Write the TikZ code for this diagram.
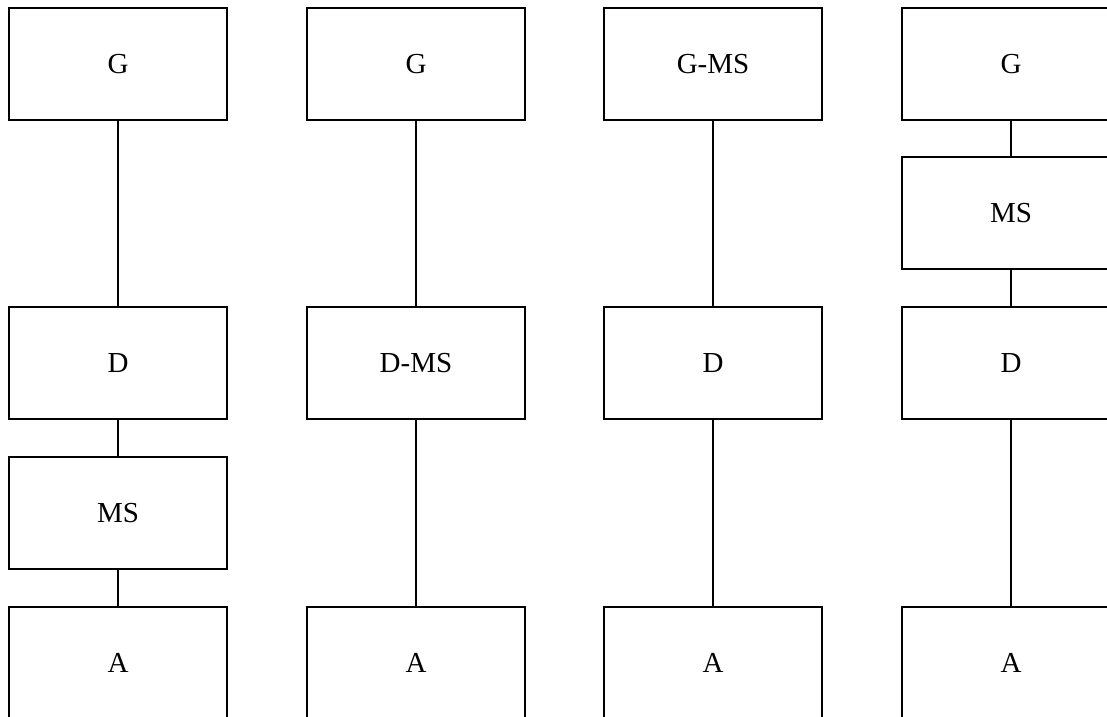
\documentclass[tikz,border=0pt]{standalone}
\usepackage{fontspec}
\setmainfont{Liberation Serif}
\begin{document}
\begin{tikzpicture}[x=1pt,y=-1pt,
  blk/.style={draw, line width=1.1pt, rectangle, minimum width=218pt, minimum height=112pt,
    inner sep=0pt, font=\fontsize{29}{34}\selectfont},
  link/.style={line width=1.1pt}]
\useasboundingbox (0,0) rectangle (1107,716);
\clip (0,0) rectangle (1107,716);
% column 1
\node[blk] (g1) at (118,64) {G};
\node[blk] (d1) at (118,363) {D};
\node[blk] (m1) at (118,513) {MS};
\node[blk] (a1) at (118,663) {A};
\draw[link] (g1) -- (d1);
\draw[link] (d1) -- (m1);
\draw[link] (m1) -- (a1);
% column 2
\node[blk] (g2) at (416,64) {G};
\node[blk] (d2) at (416,363) {D-MS};
\node[blk] (a2) at (416,663) {A};
\draw[link] (g2) -- (d2);
\draw[link] (d2) -- (a2);
% column 3
\node[blk] (g3) at (713,64) {G-MS};
\node[blk] (d3) at (713,363) {D};
\node[blk] (a3) at (713,663) {A};
\draw[link] (g3) -- (d3);
\draw[link] (d3) -- (a3);
% column 4
\node[blk] (g4) at (1011,64) {G};
\node[blk] (m4) at (1011,213) {MS};
\node[blk] (d4) at (1011,363) {D};
\node[blk] (a4) at (1011,663) {A};
\draw[link] (g4) -- (m4);
\draw[link] (m4) -- (d4);
\draw[link] (d4) -- (a4);
\end{tikzpicture}
\end{document}
